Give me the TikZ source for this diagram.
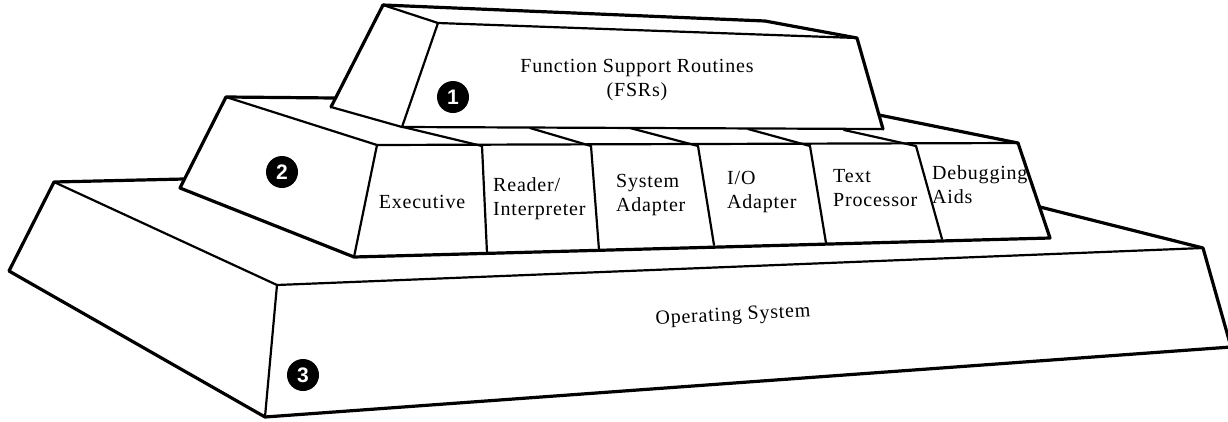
\documentclass[tikz,border=0pt]{standalone}
\usepackage{fontspec}
\setmainfont{Liberation Serif}[LetterSpace=4]
\newfontfamily\numfont{Liberation Sans}
\begin{document}
\begin{tikzpicture}[x=1pt,y=-1pt,line join=round,line cap=round,
  outer/.style={line width=3.2pt},
  inner/.style={line width=2.2pt},
  lbl/.style={font=\fontsize{20}{24}\selectfont,inner sep=0pt,align=left},
  num/.style={circle,fill=black,text=white,minimum size=32pt,inner sep=0pt,
              font=\numfont\bfseries\fontsize{21}{21}\selectfont}]
\useasboundingbox (0,0) rectangle (1228,421);
% ---------- base (Operating System) ----------
\coordinate (P1) at (54,182);
\coordinate (P2) at (9,271);
\coordinate (P3) at (265,417);
\coordinate (P4) at (277,285);
\coordinate (P5) at (1203,248);
\coordinate (P6) at (1231,347);
\coordinate (Pb) at (184,179);
\coordinate (Pr) at (1040,207);
\draw[outer] (Pb) -- (P1) -- (P2) -- (P3) -- (P6) -- (P5) -- (Pr);
\draw[inner] (P1) -- (P4) -- (P3);
\draw[inner] (P4) -- (P5);
% ---------- middle level ----------
\coordinate (Q1) at (226,97);
\coordinate (Q2) at (180,188);
\coordinate (Q3) at (354,257);
\coordinate (Q4) at (377,145);
\coordinate (Q5) at (1018,143);
\coordinate (Q6) at (1050,238);
\coordinate (Qb) at (335,98);
\coordinate (Qr) at (879,115);
\draw[outer] (Qb) -- (Q1) -- (Q2) -- (Q3) -- (Q6) -- (Q5) -- (Qr);
\draw[inner] (Q1) -- (Q4) -- (Q3);
\draw[inner] (Q4) -- (Q5);
% dividers on the front face
\coordinate (T1) at (482,146); \coordinate (B1) at (487,253);
\coordinate (T2) at (591,146); \coordinate (B2) at (599,250);
\coordinate (T3) at (698,146); \coordinate (B3) at (714,245);
\coordinate (T4) at (810,146); \coordinate (B4) at (826,243);
\coordinate (T5) at (916,146); \coordinate (B5) at (942,239);
\foreach \i in {1,...,5} \draw[inner] (T\i) -- (B\i);
% ---------- top block (FSRs) ----------
\coordinate (A) at (383,5);
\coordinate (G) at (765,21);
\coordinate (E) at (857,38);
\coordinate (F) at (883,129);
\coordinate (D) at (402,127);
\coordinate (C) at (331,107);
\coordinate (B) at (438,23);
\draw[outer] (A) -- (G) -- (E) -- (F);
\draw[outer] (A) -- (C);
\draw[inner] (C) -- (D) -- (F);
\draw[inner] (A) -- (B) -- (D);
\draw[inner] (B) -- (E);
% lines on the top face of the middle level
\coordinate (S1) at (403,127);
\coordinate (S2) at (530,128);
\coordinate (S3) at (630,128);
\coordinate (S4) at (748,129);
\coordinate (S5) at (844,130);
\foreach \i in {1,...,5} \draw[inner] (S\i) -- (T\i);
% ---------- labels ----------
\node[lbl,align=center] (fsr) at (637,80) {Function Support Routines\\(FSRs)};
\node[lbl] (exe) at (422,202) {Executive};
\node[lbl,anchor=west] (rdr) at (493,199) {Reader/\\Interpreter};
\node[lbl,anchor=west] (sys) at (616,195) {System\\Adapter};
\node[lbl,anchor=west] (io) at (727,192) {I/O\\Adapter};
\node[lbl,anchor=west] (txt) at (833,188) {Text\\Processor};
\node[lbl,anchor=west] (dbg) at (932,185) {Debugging\\Aids};
\node[lbl,rotate=3] (os) at (733,316) {Operating System};
\node[num] (n1) at (453,97) {1};
\node[num] (n2) at (282,172) {2};
\node[num] (n3) at (303,375) {3};
\end{tikzpicture}
\end{document}
